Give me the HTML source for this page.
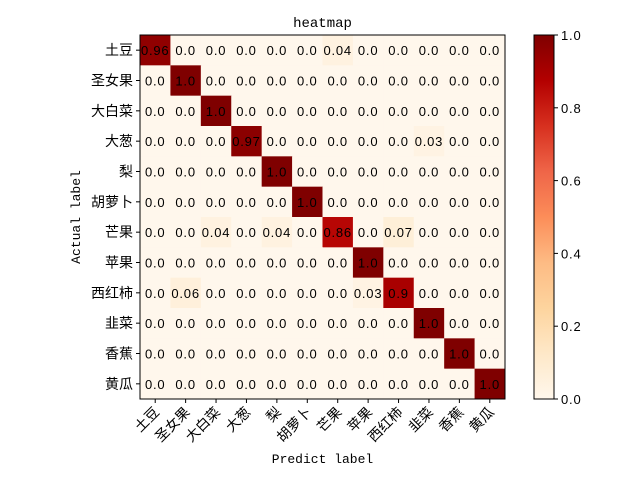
<!DOCTYPE html>
<html><head><meta charset="utf-8"><style>
body{margin:0;background:#fff}
svg text{font-family:"Liberation Sans","Noto Sans CJK SC",sans-serif}
.m{font-family:"Liberation Mono","Noto Sans CJK SC",monospace}
.v{font-family:"Liberation Sans","Noto Sans CJK SC",sans-serif;letter-spacing:0.8px}
</style></head><body>
<svg id="c" width="640" height="480" xmlns="http://www.w3.org/2000/svg"></svg>
<script>
const labels=["土豆","圣女果","大白菜","大葱","梨","胡萝卜","芒果","苹果","西红柿","韭菜","香蕉","黄瓜"];
const rowsData=[
[0.96,0,0,0,0,0,0.04,0,0,0,0,0],
[0,1,0,0,0,0,0,0,0,0,0,0],
[0,0,1,0,0,0,0,0,0,0,0,0],
[0,0,0,0.97,0,0,0,0,0,0.03,0,0],
[0,0,0,0,1,0,0,0,0,0,0,0],
[0,0,0,0,0,1,0,0,0,0,0,0],
[0,0,0.04,0,0.04,0,0.86,0,0.07,0,0,0],
[0,0,0,0,0,0,0,1,0,0,0,0],
[0,0.06,0,0,0,0,0,0.03,0.9,0,0,0],
[0,0,0,0,0,0,0,0,0,1,0,0],
[0,0,0,0,0,0,0,0,0,0,1,0],
[0,0,0,0,0,0,0,0,0,0,0,1]];
const cbTicks=[0,0.2,0.4,0.6,0.8,1.0];
const NS="http://www.w3.org/2000/svg",svg=document.getElementById("c");
const L=140,T=35,W=365,H=364,n=labels.length,cw=W/n,ch=H/n;
const xs=i=>L+i*cw, ys=i=>T+i*ch;
const cmap=["#fff7ec","#fee8c8","#fdd49e","#fdbb84","#fc8d59","#ef6548","#d7301f","#b30000","#7f0000"];
function col(v){v=Math.max(0,Math.min(1,v));const p=v*(cmap.length-1),i=Math.min(Math.floor(p),cmap.length-2),f=p-i;
const a=cmap[i],b=cmap[i+1],h=(s,k)=>parseInt(s.substr(1+2*k,2),16);
return "rgb("+[0,1,2].map(k=>Math.round(h(a,k)+(h(b,k)-h(a,k))*f)).join(",")+")";}
function el(t,at,txt){const e=document.createElementNS(NS,t);for(const k in at)e.setAttribute(k,at[k]);if(txt!=null)e.textContent=txt;svg.appendChild(e);return e;}
function fmt(v){const r=Math.round(v*100)/100;let s=String(r);if(!s.includes("."))s+=".0";return s;}
rowsData.forEach((row,r)=>row.forEach((v,c)=>{
 const rc=el("rect",{x:xs(c),y:ys(r),width:cw+0.5,height:ch+0.5,fill:col(v)});
 
 
 const t=el("text",{x:xs(c)+cw/2,y:ys(r)+ch/2+5,"text-anchor":"middle","font-size":"13",fill:"#000",class:"v"},fmt(v));
 
 
}));
const fr=el("rect",{x:L,y:T,width:W,height:H,fill:"none",stroke:"#000","stroke-width":1});


labels.forEach((lb,i)=>{
 const y=ys(i)+ch/2;
 el("line",{x1:L-4,x2:L,y1:y,y2:y,stroke:"#000"});
 const t=el("text",{x:L-7,y:y+5,"text-anchor":"end","font-size":"14"},lb);
 
 
 const x=xs(i)+cw/2;
 el("line",{x1:x,x2:x,y1:T+H,y2:T+H+4,stroke:"#000"});
 const u=el("text",{x:x+5,y:T+H+14,"text-anchor":"end","font-size":"14",transform:`rotate(-45 ${x+5} ${T+H+14})`},lb);
 
 
});
const tt=el("text",{x:L+W/2,y:T-8,"text-anchor":"middle","font-size":"14",class:"m"},"heatmap");

const xt=el("text",{x:L+W/2,y:463,"text-anchor":"middle","font-size":"13",class:"m"},"Predict label");

const yt=el("text",{x:80,y:T+H/2,"text-anchor":"middle","font-size":"13",class:"m",transform:`rotate(-90 80 ${T+H/2})`},"Actual label");

const cx=534,cwid=20;
const defs=el("defs",{});
const g=document.createElementNS(NS,"linearGradient");g.setAttribute("id","gr");g.setAttribute("x1","0");g.setAttribute("y1","1");g.setAttribute("x2","0");g.setAttribute("y2","0");defs.appendChild(g);
cmap.forEach((c,i)=>{const s=document.createElementNS(NS,"stop");s.setAttribute("offset",i/(cmap.length-1));s.setAttribute("stop-color",c);g.appendChild(s);});
const cb=el("rect",{x:cx,y:T,width:cwid,height:H,fill:"url(#gr)",stroke:"#000"});

cbTicks.forEach(v=>{const y=T+H-v*H;
 el("line",{x1:cx+cwid,x2:cx+cwid+4,y1:y,y2:y,stroke:"#000"});
 const t=el("text",{x:cx+cwid+7,y:y+5,"font-size":"13",class:"v"},v.toFixed(1));
 
});
</script>
</body></html>
